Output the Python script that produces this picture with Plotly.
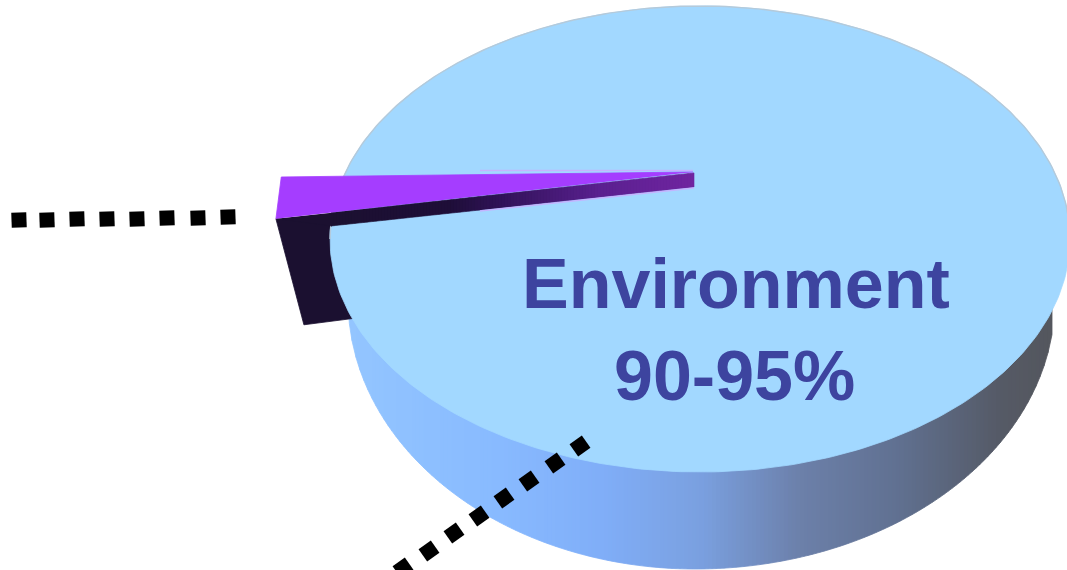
import numpy as np
import plotly.graph_objects as go

# ---- data ----
categories = ["Environment", "Other"]
shares = [97.5, 2.5]            # drawn slice sizes, percent
label_lines = ["Environment", "90-95%"]
leader_a_x = [19, 47, 77, 107, 137, 167, 198, 228]
leader_a_y = [220, 220, 219, 219, 219, 218, 218, 217]
leader_b_x = [403, 429, 454, 479, 504, 529, 555, 580]
leader_b_y = [568, 551, 533, 516, 498, 481, 463, 446]

# ---- geometry and style ----
W, H = 1067, 570
TOP_CX, TOP_CY, TOP_RX, TOP_RY = 700, 239, 370, 233
BOT_CX, BOT_CY, BOT_RXL, BOT_RXR, BOT_RY = 695, 300, 347, 360, 269
APEX = (693, 172)
RIM = (1.113, 1.145)
START_DEG = 178.9
COL_TOP = "#A2D8FF"
COL_EDGE = "#B4CADB"
COL_TEXT = "#3D449F"
COL_DARK = "#1B1030"
SIDE_STOPS_X = [350, 500, 600, 700, 800, 900, 1000, 1060]
SIDE_STOPS_C = [(147, 197, 255), (136, 186, 255), (128, 174, 248), (122, 160, 224),
                (108, 128, 170), (96, 112, 144), (85, 90, 102), (84, 86, 92)]
BAND_STOPS_X = [331, 450, 500, 600, 694]
BAND_STOPS_C = [(27, 16, 48), (30, 14, 56), (48, 18, 88), (90, 32, 144), (112, 36, 160)]


def ramp(x, xs, cs):
    c = [np.interp(x, xs, [k[i] for k in cs]) for i in range(3)]
    return "rgb(%d,%d,%d)" % tuple(int(round(v)) for v in c)


def poly(xs, ys, color, line=0.8):
    return go.Scatter(x=list(xs), y=list(ys), mode="lines", fill="toself", fillcolor=color,
                      line=dict(color=color, width=line), hoverinfo="skip", showlegend=False)


fig = go.Figure()


def top_low(x):
    return TOP_CY + TOP_RY * np.sqrt(np.clip(1 - ((x - TOP_CX) / TOP_RX) ** 2, 0, 1))


def bot_low(x):
    rx = BOT_RXL if x < BOT_CX else BOT_RXR
    return BOT_CY + BOT_RY * np.sqrt(np.clip(1 - ((x - BOT_CX) / rx) ** 2, 0, 1))


# cylinder wall as thin gradient strips
edges = np.arange(BOT_CX - BOT_RXL, BOT_CX + BOT_RXR + 1, 4)
for a, b in zip(edges[:-1], edges[1:]):
    xs = np.linspace(a, b, 4)
    upper = [top_low(v) - 3 for v in xs]
    lower = [bot_low(v) for v in xs]
    fig.add_trace(poly(list(xs) + list(xs[::-1]), upper + lower[::-1],
                       ramp((a + b) / 2, SIDE_STOPS_X, SIDE_STOPS_C)))

# slice geometry follows its share
sweep = shares[1] / 100 * 360
t1, t2 = np.radians(START_DEG), np.radians(START_DEG - sweep)
P1 = (APEX[0] + RIM[0] * TOP_RX * np.cos(t1), APEX[1] + RIM[0] * TOP_RY * np.sin(t1))
P2 = (APEX[0] + RIM[1] * TOP_RX * np.cos(t2), APEX[1] + RIM[1] * TOP_RY * np.sin(t2))

# outer wall of the slice, partly hidden by the disc
fig.add_trace(poly([P2[0], P2[0] + 28, P2[0] + 90, P2[0] + 70],
                   [P2[1], P2[1] + 106, P2[1] + 98, P2[1] + 2], COL_DARK))

# top of the disc
t = np.linspace(0, 2 * np.pi, 361)
fig.add_trace(poly(TOP_CX + TOP_RX * np.cos(t), TOP_CY + TOP_RY * np.sin(t), COL_TOP))
t_up = np.linspace(np.pi, 2 * np.pi, 181)
fig.add_trace(go.Scatter(x=TOP_CX + TOP_RX * np.cos(t_up), y=TOP_CY + TOP_RY * np.sin(t_up),
                         mode="lines", line=dict(color=COL_EDGE, width=1.4),
                         hoverinfo="skip", showlegend=False))

# inner wall of the slice
LOW_L, LOW_R = (331, 226), (694, 187)


def band_up(x):
    return P2[1] + (APEX[1] + 1 - P2[1]) * (x - P2[0]) / (APEX[0] - P2[0])


def band_lo(x):
    return LOW_L[1] + (LOW_R[1] - LOW_L[1]) * (x - LOW_L[0]) / (LOW_R[0] - LOW_L[0])


fig.add_trace(poly([P2[0], LOW_L[0] + 1, LOW_L[0] + 1], [P2[1], LOW_L[1], band_up(LOW_L[0] + 1)], COL_DARK))
band_edges = np.linspace(LOW_L[0], LOW_R[0], 122)
for a, b in zip(band_edges[:-1], band_edges[1:]):
    fig.add_trace(poly([a, b, b, a], [band_up(a), band_up(b), band_lo(b), band_lo(a)],
                       ramp((a + b) / 2, BAND_STOPS_X, BAND_STOPS_C), line=0.6))
fig.add_trace(go.Scatter(x=[480, LOW_R[0]], y=[band_lo(480) + 1, LOW_R[1] + 1], mode="lines",
                         line=dict(color="#C4B4FF", width=1.5), hoverinfo="skip", showlegend=False))
fig.add_trace(go.Scatter(x=[480, APEX[0]], y=[APEX[1] - 1.5, APEX[1] - 1.5], mode="lines",
                         line=dict(color="#C4B4FF", width=1.5), hoverinfo="skip", showlegend=False))

# top face of the slice
fig.add_trace(poly([APEX[0], P1[0], P2[0]], [APEX[1], P1[1], P2[1]], "#A53DFF"))

# leaders
for xs, ys, ang in [(leader_a_x, leader_a_y, -2), (leader_b_x, leader_b_y, -35)]:
    fig.add_trace(go.Scatter(x=xs, y=ys, mode="markers",
                             marker=dict(symbol="square", size=15, color="black", angle=ang,
                                         line=dict(width=0)),
                             hoverinfo="skip", showlegend=False))

# labels
for txt, x, y in [(label_lines[0], 735.5, 284), (label_lines[1], 734, 376)]:
    fig.add_annotation(x=x, y=y, text="<b>%s</b>" % txt, showarrow=False, xanchor="center",
                       yanchor="middle", font=dict(family="Liberation Sans", size=70, color=COL_TEXT))

fig.update_layout(width=W, height=H, margin=dict(l=0, r=0, t=0, b=0), showlegend=False,
                  paper_bgcolor="white", plot_bgcolor="white",
                  xaxis=dict(range=[0, W], visible=False, fixedrange=True),
                  yaxis=dict(range=[H, 0], visible=False, fixedrange=True))
fig.write_html("out.html", config={"displayModeBar": False},
               post_script="document.body.style.margin='0';document.body.style.overflow='hidden';")
